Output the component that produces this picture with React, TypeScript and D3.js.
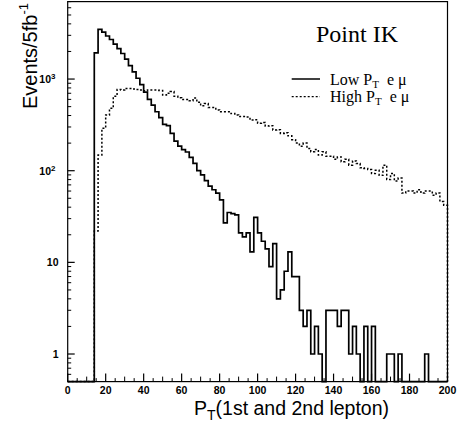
import React from "react";
import * as d3 from "d3";

// ---- data ----
const binEdgesStart = 0;
const binEdgesEnd = 200;
const binCount = 100;

// Low PT e mu  (bins of width 2, from 0 to 200)
const lowCounts: number[] = [
  0, 0, 0, 0, 0, 0, 0,
  1930, 3480, 3250, 2950, 2700, 2400, 2150, 1900, 1650, 1400,
  1200, 1020, 870, 720, 600, 520, 440, 380, 320, 310,
  255, 210, 185, 170, 160, 140, 120, 100, 90, 78,
  68, 62, 57, 48,
  27, 35, 34, 33, 21, 19, 21, 13, 31, 21,
  17, 14, 9, 16, 4, 5, 8, 13, 7, 7,
  3, 2, 3, 1, 2, 1, 0, 3, 3, 3,
  2, 3, 3, 1, 2, 1, 0, 2, 0, 2,
  0, 0, 0, 1, 1, 0, 1, 0, 0, 0,
  0, 0, 0, 1, 0, 0, 0, 0, 0,
];

// High PT e mu
const highCounts: number[] = [
  0, 0, 0, 0, 0, 0, 0,
  22,
  148, 290, 405, 480, 650, 770, 760, 790, 790, 780,
  770, 760, 745, 760, 760, 760, 750, 670, 700, 730,
  650, 625, 600, 600, 580, 620, 560, 510, 540, 490,
  490, 460,
  440, 440, 440, 420, 405, 390, 390, 385, 357, 360,
  330, 335, 307, 310, 278, 280, 255, 260, 240, 218,
  200, 185, 200, 175, 161, 170, 148, 161, 144, 144,
  133, 141, 125, 133, 115, 128, 120, 108, 106, 103,
  93, 101, 89, 115, 80, 93, 77, 83, 57, 60,
  60, 57, 62, 57, 60, 60, 54, 57, 46, 42,
];

const xTickValues = [0, 20, 40, 60, 80, 100, 120, 140, 160, 180, 200];
const yMajorTicks = [1, 10, 100, 1000];
const yTickLabels = [
  { base: "1", exp: "" },
  { base: "10", exp: "" },
  { base: "10", exp: "2" },
  { base: "10", exp: "3" },
];
const seriesNames = ["Low", "High"];
const chartTitle = "Point IK";

// ---- layout ----
const W = 457;
const H = 423;
const LEFT = 67.7;
const RIGHT = 447.5;
const TOP = 1.6;
const BOTTOM = 381.6;
const Y_MIN = 0.5;
const Y_MAX = 7000;

const x = d3.scaleLinear().domain([binEdgesStart, binEdgesEnd]).range([LEFT, RIGHT]);
const y = d3.scaleLog().domain([Y_MIN, Y_MAX]).range([BOTTOM, TOP]);

function histPath(counts: number[]): string {
  const bw = (binEdgesEnd - binEdgesStart) / binCount;
  const pts: [number, number][] = [[x(binEdgesStart), y(Y_MIN)]];
  counts.forEach((c, i) => {
    const v = c > Y_MIN ? c : Y_MIN;
    const x0 = x(binEdgesStart + i * bw);
    const x1 = x(binEdgesStart + (i + 1) * bw);
    pts.push([x0, y(v)]);
    pts.push([x1, y(v)]);
  });
  pts.push([x(binEdgesEnd), y(Y_MIN)]);
  return d3.line()(pts) || "";
}

export default function App() {
  const sans = "'Liberation Sans', Arial, Helvetica, sans-serif";
  const serif = "'Liberation Serif', 'Times New Roman', serif";

  // minor ticks on log axis
  const yMinor: number[] = [];
  for (let d = -1; d <= 3; d++) {
    for (let k = 2; k <= 9; k++) {
      const v = k * Math.pow(10, d);
      if (v >= Y_MIN && v <= Y_MAX) yMinor.push(v);
    }
  }
  const xMinor: number[] = d3.range(0, 201, 5).filter((v) => v % 20 !== 0);

  return (
    <svg
      width={W}
      height={H}
      viewBox={`0 0 ${W} ${H}`}
      style={{ position: "absolute", left: 0, top: 0, background: "#fff" }}
    >
      <rect x={0} y={0} width={W} height={H} fill="#fff" />

      {/* histograms */}
      <path
        d={histPath(highCounts)}
        fill="none"
        stroke="#000"
        strokeWidth={1.5}
        strokeDasharray="2,2"
      />
      <path d={histPath(lowCounts)} fill="none" stroke="#000" strokeWidth={1.7} />

      {/* frame */}
      <rect
        x={LEFT}
        y={TOP}
        width={RIGHT - LEFT}
        height={BOTTOM - TOP}
        fill="none"
        stroke="#000"
        strokeWidth={1.2}
      />

      {/* y ticks */}
      {yMajorTicks.map((v) => (
        <line key={"ym" + v} x1={LEFT} x2={LEFT + 7} y1={y(v)} y2={y(v)} stroke="#000" strokeWidth={1.2} />
      ))}
      {yMinor.map((v) => (
        <line key={"yn" + v} x1={LEFT} x2={LEFT + 3.5} y1={y(v)} y2={y(v)} stroke="#000" strokeWidth={1} />
      ))}
      {yMajorTicks.map((v, i) => (
        <text
          key={"yl" + v}
          x={yTickLabels[i].exp ? 55.5 : 58.5}
          y={y(v) + 3.8}
          textAnchor="end"
          fontFamily={sans}
          fontSize={10.5}
          fontWeight="bold"
        >
          {yTickLabels[i].base}
          {yTickLabels[i].exp && (
            <tspan dy={-4} fontSize={8}>
              {yTickLabels[i].exp}
            </tspan>
          )}
        </text>
      ))}

      {/* x ticks */}
      {xTickValues.map((v) => (
        <line key={"xm" + v} x1={x(v)} x2={x(v)} y1={BOTTOM} y2={BOTTOM - 8} stroke="#000" strokeWidth={1.2} />
      ))}
      {xMinor.map((v) => (
        <line
          key={"xn" + v}
          x1={x(v)}
          x2={x(v)}
          y1={BOTTOM}
          y2={BOTTOM - (v % 10 === 0 ? 5 : 3.5)}
          stroke="#000"
          strokeWidth={1}
        />
      ))}
      {xTickValues.map((v) => (
        <text
          key={"xl" + v}
          x={x(v)}
          y={393.5}
          textAnchor="middle"
          fontFamily={sans}
          fontSize={10.5}
          fontWeight="bold"
        >
          {v}
        </text>
      ))}

      {/* axis titles */}
      <text x={194} y={414.5} fontFamily={sans} fontSize={19.5}>
        P<tspan fontSize={14} dy={5}>T</tspan>
        <tspan dy={-5}>(1st and 2nd lepton)</tspan>
      </text>
      <text
        transform="translate(36.5,3) rotate(-90)"
        textAnchor="end"
        fontFamily={sans}
        fontSize={20}
      >
        Events/5fb
        <tspan fontSize={13} dy={-9}>
          -1
        </tspan>
      </text>

      {/* title + legend */}
      <text x={316} y={42} fontFamily={serif} fontSize={24}>
        {chartTitle}
      </text>
      <line x1={291.7} x2={320} y1={79} y2={79} stroke="#000" strokeWidth={1.5} />
      <line x1={291.7} x2={320} y1={96.7} y2={96.7} stroke="#000" strokeWidth={1.2} strokeDasharray="2,2" />
      <text x={330} y={84.5} fontFamily={serif} fontSize={16}>
        {seriesNames[0]} P<tspan fontSize={11} dy={3}>T</tspan>
        <tspan dy={-3}>{"\u00a0\u00a0e \u03bc"}</tspan>
      </text>
      <text x={330} y={102} fontFamily={serif} fontSize={16}>
        {seriesNames[1]} P<tspan fontSize={11} dy={3}>T</tspan>
        <tspan dy={-3}>{"\u00a0\u00a0e \u03bc"}</tspan>
      </text>
    </svg>
  );
}
